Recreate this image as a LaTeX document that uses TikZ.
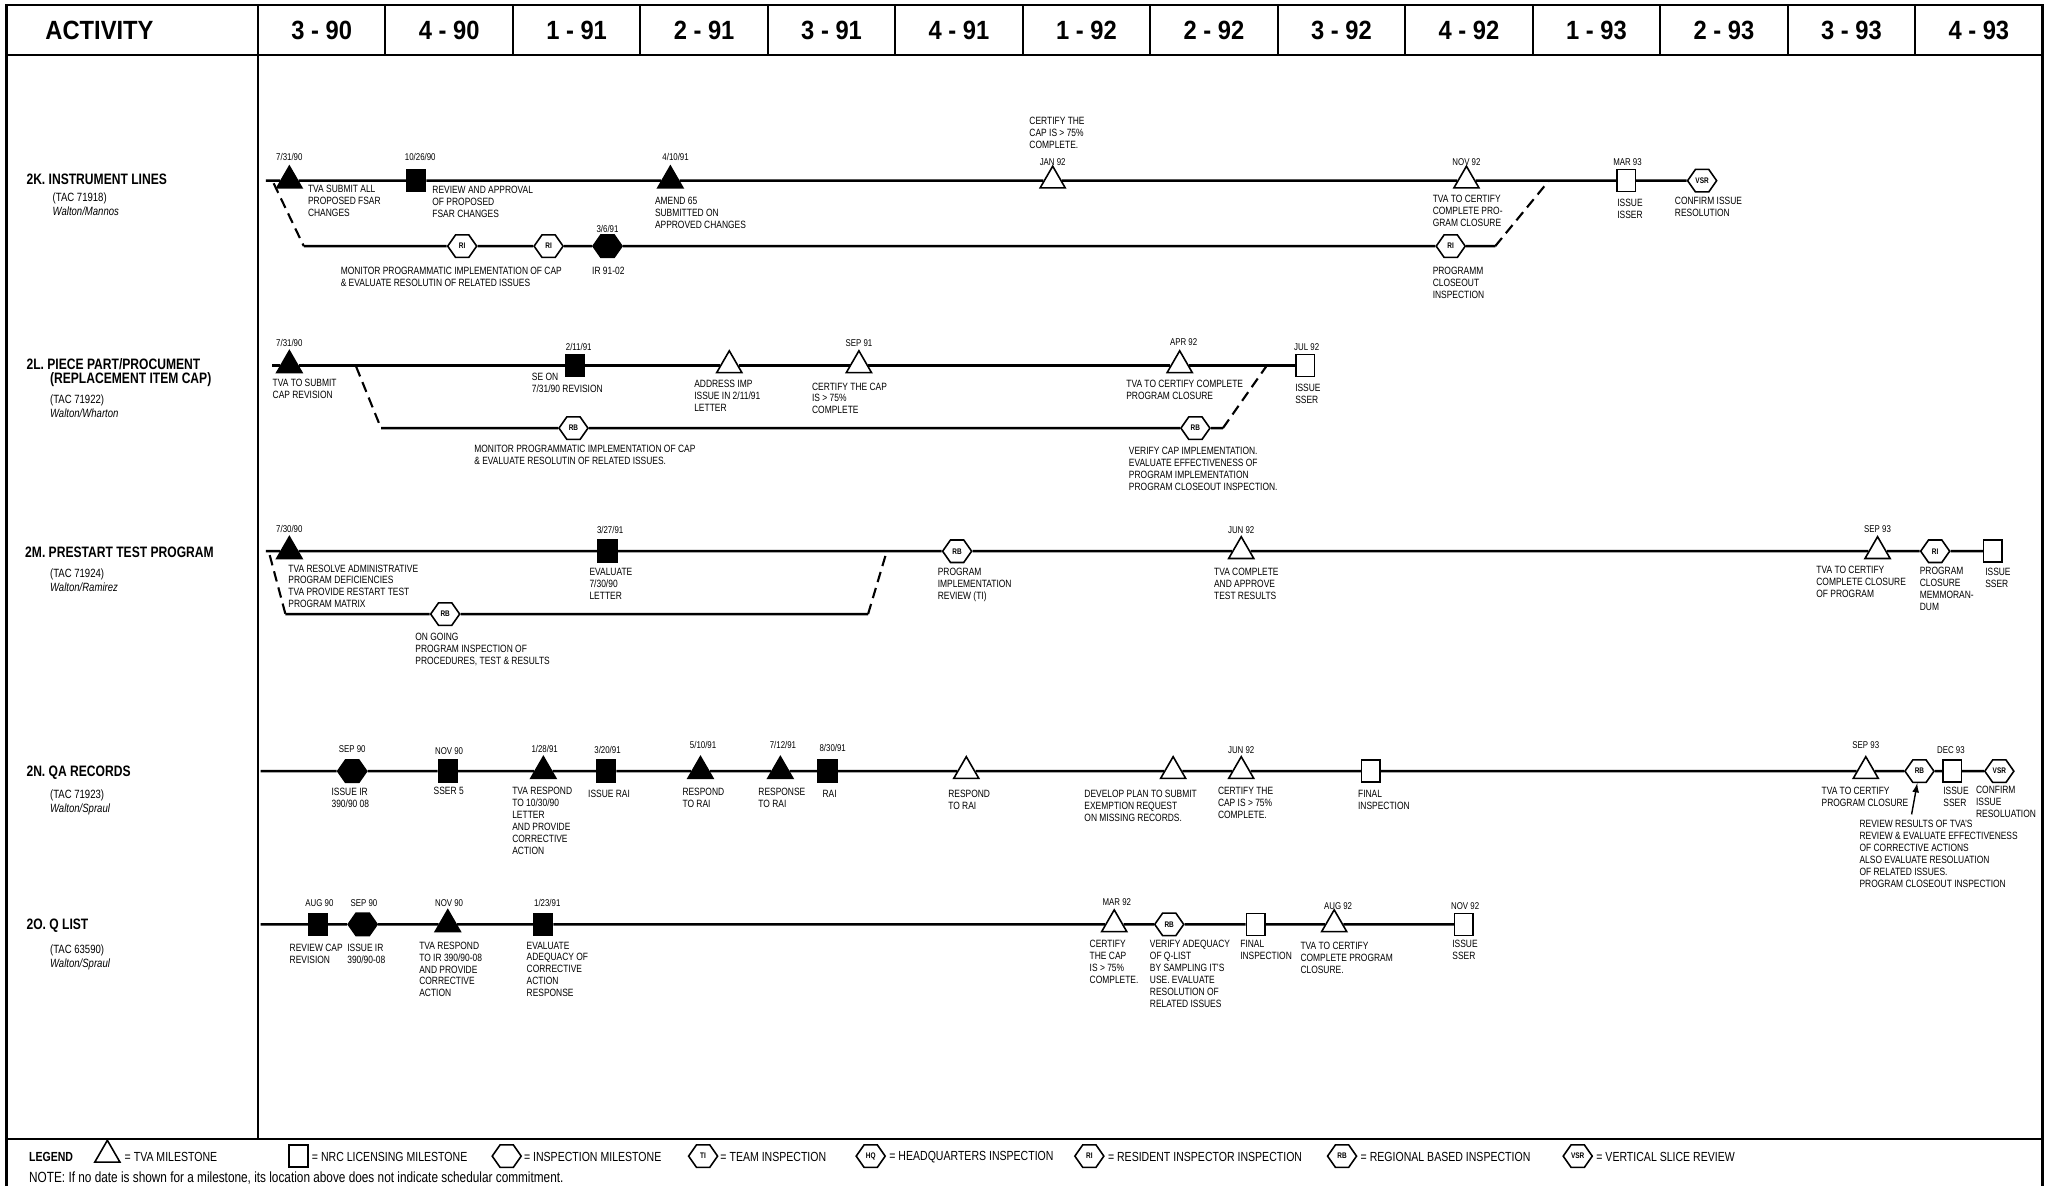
\documentclass[tikz,border=0pt]{standalone}
\usepackage{fontspec}
\setmainfont[FakeStretch=0.8]{Liberation Sans}
\newfontfamily\headfont[FakeStretch=0.9]{Liberation Sans}
\usetikzlibrary{shapes.geometric,shapes.symbols}

\begin{document}
\begin{tikzpicture}
    [
        x=0.026186cm, y=-0.026186cm,
        gridline/.style={line width=1.2pt},
        track/.style={line width=1.4pt},
        link/.style={line width=1.2pt, dash pattern=on 6pt off 3.5pt},
        tvamile/.style={regular polygon, regular polygon sides=3, draw, line width=0.9pt, fill=white, inner sep=0pt, minimum size=0.58cm},
        tvadone/.style={tvamile, fill=black},
        nrcmile/.style={rectangle, draw, line width=0.9pt, fill=white, inner sep=0pt, minimum width=0.37cm, minimum height=0.44cm},
        nrcdone/.style={nrcmile, fill=black},
        insp/.style={signal, signal to=east and west, signal pointer angle=110, draw, line width=0.9pt, fill=white, inner sep=0pt, minimum width=0.58cm, minimum height=0.45cm, font=\fontsize{4.6}{4.6}\selectfont\bfseries},
        inspdone/.style={insp, fill=black},
        datelbl/.style={inner sep=0pt, font=\fontsize{5.6}{6}\selectfont},
        desc/.style={anchor=north west, align=left, inner sep=0pt, font=\fontsize{6}{6.8}\selectfont},
        rowtitle/.style={anchor=west, inner sep=0pt, font=\fontsize{8.6}{10}\selectfont\bfseries},
        rowinfo/.style={anchor=north west, align=left, inner sep=0pt, font=\fontsize{6.8}{8.2}\selectfont},
        quarter/.style={inner sep=0pt, font=\headfont\fontsize{15}{16}\selectfont\bfseries},
        legendtxt/.style={anchor=west, inner sep=0pt, font=\fontsize{7.5}{8}\selectfont},
    ]
    \useasboundingbox (0,0) rectangle (1568,906);
    \draw[gridline] (5,906) -- (5,4) -- (1560,4) -- (1560,906);
    \draw[gridline] (5,42) -- (1560,42);
    \draw[gridline] (5,870) -- (1560,870);
    \draw[gridline] (197,4) -- (197,870);
    \node (act) at (76,23) [quarter] {ACTIVITY};
    \foreach \q [count=\i from 0] in {3 - 90, 4 - 90, 1 - 91, 2 - 91, 3 - 91, 4 - 91, 1 - 92, 2 - 92, 3 - 92, 4 - 92, 1 - 93, 2 - 93, 3 - 93, 4 - 93}
    {
        \draw[gridline] ({197+97.36*(\i+1)},4) -- ({197+97.36*(\i+1)},42);
        \node (q\i) at ({197+97.36*(\i+0.5)},23) [quarter] {\q};
    }

    \node (kt) at (20,137) [rowtitle] {2K. INSTRUMENT LINES};
    \node (ki) at (40,147) [rowinfo] {(TAC 71918)\\\textit{Walton/Mannos}};
    \coordinate (k0) at (203,138);
    \node (k1) at (221,138) [tvadone] {};
    \node (k2) at (318,138) [nrcdone] {};
    \node (k3) at (512,138) [tvadone] {};
    \node (k4) at (804,138) [tvamile] {};
    \node (k5) at (1120,138) [tvamile] {};
    \node (k6) at (1242,138) [nrcmile] {};
    \node (k7) at (1300,138) [insp] {VSR};
    \coordinate (ka) at (209,140);
    \coordinate (kb) at (232,188);
    \node (k8) at (353,188) [insp] {RI};
    \node (k9) at (419,188) [insp] {RI};
    \node (k10) at (464,188) [inspdone] {};
    \node (k11) at (1108,188) [insp] {RI};
    \coordinate (kc) at (1142,188);
    \coordinate (kd) at (1183,138);
    \draw[track] (k0) -- (k1) -- (k2) -- (k3) -- (k4) -- (k5) -- (k6) -- (k7);
    \draw[track] (kb) -- (k8) -- (k9) -- (k10) -- (k11) -- (kc);
    \draw[link] (ka) -- (kb);
    \draw[link] (kc) -- (kd);
    \node (k1d) at (221,120) [datelbl] {7/31/90};
    \node (k2d) at (321,120) [datelbl] {10/26/90};
    \node (k3d) at (516,120) [datelbl] {4/10/91};
    \node (k4d) at (804,124) [datelbl] {JAN 92};
    \node (k5d) at (1120,124) [datelbl] {NOV 92};
    \node (k6d) at (1243,124) [datelbl] {MAR 93};
    \node (k10d) at (464,175) [datelbl] {3/6/91};
    \node (k1t) at (235,141) [desc] {TVA SUBMIT ALL\\PROPOSED FSAR\\CHANGES};
    \node (k2t) at (330,142) [desc] {REVIEW AND APPROVAL\\OF PROPOSED\\FSAR CHANGES};
    \node (k3t) at (500,150) [desc] {AMEND 65\\SUBMITTED ON\\APPROVED CHANGES};
    \node (k4t) at (786,89) [desc] {CERTIFY THE\\CAP IS > 75\%\\COMPLETE.};
    \node (k5t) at (1094,149) [desc] {TVA TO CERTIFY\\COMPLETE PRO-\\GRAM CLOSURE};
    \node (k6t) at (1235,152) [desc] {ISSUE\\ISSER};
    \node (k7t) at (1279,150) [desc] {CONFIRM ISSUE\\RESOLUTION};
    \node (k8t) at (260,204) [desc] {MONITOR PROGRAMMATIC IMPLEMENTATION OF CAP\\\& EVALUATE RESOLUTIN OF RELATED ISSUES};
    \node (k10t) at (452,204) [desc] {IR 91-02};
    \node (k11t) at (1094,204) [desc] {PROGRAMM\\CLOSEOUT\\INSPECTION};

    \node (lt) at (20,278) [rowtitle] {2L. PIECE PART/PROCUMENT};
    \node (lr) at (38,290) [rowtitle] {(REPLACEMENT ITEM CAP)};
    \node (li) at (38,301) [rowinfo] {(TAC 71922)\\\textit{Walton/Wharton}};
    \coordinate (l0) at (208,279);
    \node (l1) at (221,279) [tvadone] {};
    \node (l2) at (439,279) [nrcdone] {};
    \node (l3) at (557,279) [tvamile] {};
    \node (l4) at (656,279) [tvamile] {};
    \node (l5) at (901,279) [tvamile] {};
    \node (l6) at (997,279) [nrcmile] {};
    \coordinate (la) at (272,280);
    \coordinate (lb) at (291,327);
    \node (l7) at (438,327) [insp] {RB};
    \node (l8) at (913,327) [insp] {RB};
    \coordinate (lc) at (934,327);
    \coordinate (ld) at (967,280);
    \draw[track] (l0) -- (l1) -- (l2) -- (l3) -- (l4) -- (l5) -- (l6);
    \draw[track] (lb) -- (l7) -- (l8) -- (lc);
    \draw[link] (la) -- (lb);
    \draw[link] (lc) -- (ld);
    \node (l1d) at (221,262) [datelbl] {7/31/90};
    \node (l2d) at (442,265) [datelbl] {2/11/91};
    \node (l4d) at (656,262) [datelbl] {SEP 91};
    \node (l5d) at (904,261) [datelbl] {APR 92};
    \node (l6d) at (998,265) [datelbl] {JUL 92};
    \node (l1t) at (208,289) [desc] {TVA TO SUBMIT\\CAP REVISION};
    \node (l2t) at (406,285) [desc] {SE ON\\7/31/90 REVISION};
    \node (l3t) at (530,290) [desc] {ADDRESS IMP\\ISSUE IN 2/11/91\\LETTER};
    \node (l4t) at (620,292) [desc] {CERTIFY THE CAP\\IS > 75\%\\COMPLETE};
    \node (l5t) at (860,290) [desc] {TVA TO CERTIFY COMPLETE\\PROGRAM CLOSURE};
    \node (l6t) at (989,293) [desc] {ISSUE\\SSER};
    \node (l7t) at (362,340) [desc] {MONITOR PROGRAMMATIC IMPLEMENTATION OF CAP\\\& EVALUATE RESOLUTIN OF RELATED ISSUES.};
    \node (l8t) at (862,341) [desc] {VERIFY CAP IMPLEMENTATION.\\EVALUATE EFFECTIVENESS OF\\PROGRAM IMPLEMENTATION\\PROGRAM CLOSEOUT INSPECTION.};

    \node (mt) at (19,422) [rowtitle] {2M. PRESTART TEST PROGRAM};
    \node (mi) at (38,434) [rowinfo] {(TAC 71924)\\\textit{Walton/Ramirez}};
    \coordinate (m0) at (203,421);
    \node (m1) at (221,421) [tvadone] {};
    \node (m2) at (464,421) [nrcdone] {};
    \node (m3) at (731,421) [insp] {RB};
    \node (m4) at (948,421) [tvamile] {};
    \node (m5) at (1434,421) [tvamile] {};
    \node (m6) at (1478,421) [insp] {RI};
    \node (m7) at (1522,421) [nrcmile] {};
    \coordinate (ma) at (206,424);
    \coordinate (mb) at (218,469);
    \node (m8) at (340,469) [insp] {RB};
    \coordinate (mc) at (663,469);
    \coordinate (md) at (677,422);
    \draw[track] (m0) -- (m1) -- (m2) -- (m3) -- (m4) -- (m5) -- (m6) -- (m7);
    \draw[track] (mb) -- (m8) -- (mc);
    \draw[link] (ma) -- (mb);
    \draw[link] (mc) -- (md);
    \node (m1d) at (221,404) [datelbl] {7/30/90};
    \node (m2d) at (466,405) [datelbl] {3/27/91};
    \node (m4d) at (948,405) [datelbl] {JUN 92};
    \node (m5d) at (1434,404) [datelbl] {SEP 93};
    \node (m1t) at (220,431) [desc] {TVA RESOLVE ADMINISTRATIVE\\PROGRAM DEFICIENCIES\\TVA PROVIDE RESTART TEST\\PROGRAM MATRIX};
    \node (m2t) at (450,434) [desc] {EVALUATE\\7/30/90\\LETTER};
    \node (m3t) at (716,434) [desc] {PROGRAM\\IMPLEMENTATION\\REVIEW (TI)};
    \node (m4t) at (927,434) [desc] {TVA COMPLETE\\AND APPROVE\\TEST RESULTS};
    \node (m5t) at (1387,432) [desc] {TVA TO CERTIFY\\COMPLETE CLOSURE\\OF PROGRAM};
    \node (m6t) at (1466,433) [desc] {PROGRAM\\CLOSURE\\MEMMORAN-\\DUM};
    \node (m7t) at (1516,434) [desc] {ISSUE\\SSER};
    \node (m8t) at (317,483) [desc] {ON GOING\\PROGRAM INSPECTION OF\\PROCEDURES, TEST \& RESULTS};

    \node (nt) at (20,590) [rowtitle] {2N. QA RECORDS};
    \node (ni) at (38,603) [rowinfo] {(TAC 71923)\\\textit{Walton/Spraul}};
    \coordinate (n0) at (199,589);
    \node (n1) at (269,589) [inspdone] {};
    \node (n2) at (342,589) [nrcdone] {};
    \node (n3) at (415,589) [tvadone] {};
    \node (n4) at (463,589) [nrcdone] {};
    \node (n5) at (535,589) [tvadone] {};
    \node (n6) at (596,589) [tvadone] {};
    \node (n7) at (632,589) [nrcdone] {};
    \node (n8) at (738,589) [tvamile] {};
    \node (n9) at (896,589) [tvamile] {};
    \node (n10) at (948,589) [tvamile] {};
    \node (n11) at (1047,589) [nrcmile] {};
    \node (n12) at (1425,589) [tvamile] {};
    \node (n13) at (1466,589) [insp] {RB};
    \node (n14) at (1491,589) [nrcmile] {};
    \node (n15) at (1527,589) [insp] {VSR};
    \coordinate (na) at (1460,622);
    \draw[track] (n0) -- (n1) -- (n2) -- (n3) -- (n4) -- (n5) -- (n6) -- (n7) -- (n8) -- (n9) -- (n10) -- (n11) -- (n12) -- (n13) -- (n14) -- (n15);
    \draw[line width=0.8pt, -latex] (na) -- (n13);
    \node (n1d) at (269,572) [datelbl] {SEP 90};
    \node (n2d) at (343,574) [datelbl] {NOV 90};
    \node (n3d) at (416,572) [datelbl] {1/28/91};
    \node (n4d) at (464,573) [datelbl] {3/20/91};
    \node (n5d) at (537,569) [datelbl] {5/10/91};
    \node (n6d) at (598,569) [datelbl] {7/12/91};
    \node (n7d) at (636,571) [datelbl] {8/30/91};
    \node (n10d) at (948,573) [datelbl] {JUN 92};
    \node (n12d) at (1425,569) [datelbl] {SEP 93};
    \node (n14d) at (1490,573) [datelbl] {DEC 93};
    \node (n1t) at (253,602) [desc] {ISSUE IR\\390/90 08};
    \node (n2t) at (331,601) [desc] {SSER 5};
    \node (n3t) at (391,601) [desc] {TVA RESPOND\\TO 10/30/90\\LETTER\\AND PROVIDE\\CORRECTIVE\\ACTION};
    \node (n4t) at (449,603) [desc] {ISSUE RAI};
    \node (n5t) at (521,602) [desc] {RESPOND\\TO RAI};
    \node (n6t) at (579,602) [desc] {RESPONSE\\TO RAI};
    \node (n7t) at (628,603) [desc] {RAI};
    \node (n8t) at (724,603) [desc] {RESPOND\\TO RAI};
    \node (n9t) at (828,603) [desc] {DEVELOP PLAN TO SUBMIT\\EXEMPTION REQUEST\\ON MISSING RECORDS.};
    \node (n10t) at (930,601) [desc] {CERTIFY THE\\CAP IS > 75\%\\COMPLETE.};
    \node (n11t) at (1037,603) [desc] {FINAL\\INSPECTION};
    \node (n12t) at (1391,601) [desc] {TVA TO CERTIFY\\PROGRAM CLOSURE};
    \node (n13t) at (1420,626) [desc] {REVIEW RESULTS OF TVA'S\\REVIEW \& EVALUATE EFFECTIVENESS\\OF CORRECTIVE ACTIONS\\ALSO EVALUATE RESOLUATION\\OF RELATED ISSUES.\\PROGRAM CLOSEOUT INSPECTION};
    \node (n14t) at (1484,601) [desc] {ISSUE\\SSER};
    \node (n15t) at (1509,600) [desc] {CONFIRM\\ISSUE\\RESOLUATION};

    \node (ot) at (20,707) [rowtitle] {2O. Q LIST};
    \node (oi) at (38,721) [rowinfo] {(TAC 63590)\\\textit{Walton/Spraul}};
    \coordinate (o0) at (199,706);
    \node (o1) at (243,706) [nrcdone] {};
    \node (o2) at (277,706) [inspdone] {};
    \node (o3) at (342,706) [tvadone] {};
    \node (o4) at (415,706) [nrcdone] {};
    \node (o5) at (851,706) [tvamile] {};
    \node (o6) at (893,706) [insp] {RB};
    \node (o7) at (959,706) [nrcmile] {};
    \node (o8) at (1019,706) [tvamile] {};
    \node (o9) at (1118,706) [nrcmile] {};
    \draw[track] (o0) -- (o1) -- (o2) -- (o3) -- (o4) -- (o5) -- (o6) -- (o7) -- (o8) -- (o9);
    \node (o1d) at (244,690) [datelbl] {AUG 90};
    \node (o2d) at (278,690) [datelbl] {SEP 90};
    \node (o3d) at (343,690) [datelbl] {NOV 90};
    \node (o4d) at (418,690) [datelbl] {1/23/91};
    \node (o5d) at (853,689) [datelbl] {MAR 92};
    \node (o8d) at (1022,692) [datelbl] {AUG 92};
    \node (o9d) at (1119,692) [datelbl] {NOV 92};
    \node (o1t) at (221,721) [desc] {REVIEW CAP\\REVISION};
    \node (o2t) at (265,721) [desc] {ISSUE IR\\390/90-08};
    \node (o3t) at (320,719) [desc] {TVA RESPOND\\TO IR 390/90-08\\AND PROVIDE\\CORRECTIVE\\ACTION};
    \node (o4t) at (402,719) [desc] {EVALUATE\\ADEQUACY OF\\CORRECTIVE\\ACTION\\RESPONSE};
    \node (o5t) at (832,718) [desc] {CERTIFY\\THE CAP\\IS > 75\%\\COMPLETE.};
    \node (o6t) at (878,718) [desc] {VERIFY ADEQUACY\\OF Q-LIST\\BY SAMPLING IT'S\\USE. EVALUATE\\RESOLUTION OF\\RELATED ISSUES};
    \node (o7t) at (947,718) [desc] {FINAL\\INSPECTION};
    \node (o8t) at (993,719) [desc] {TVA TO CERTIFY\\COMPLETE PROGRAM\\CLOSURE.};
    \node (o9t) at (1109,718) [desc] {ISSUE\\SSER};

    \node (lg) at (22,884) [legendtxt, font=\fontsize{7.5}{8}\selectfont\bfseries] {LEGEND};
    \node (g1) at (82,882) [tvamile] {};
    \node (g1t) at (95,884) [legendtxt] {= TVA MILESTONE};
    \node (g2) at (228,883) [nrcmile] {};
    \node (g2t) at (238,884) [legendtxt] {= NRC LICENSING MILESTONE};
    \node (g3) at (387,883) [insp] {};
    \node (g3t) at (400,884) [legendtxt] {= INSPECTION MILESTONE};
    \node (g4) at (537,883) [insp] {TI};
    \node (g4t) at (550,884) [legendtxt] {= TEAM INSPECTION};
    \node (g5) at (665,883) [insp] {HQ};
    \node (g5t) at (679,884) [legendtxt] {= HEADQUARTERS INSPECTION};
    \node (g6) at (832,883) [insp] {RI};
    \node (g6t) at (846,884) [legendtxt] {= RESIDENT INSPECTOR INSPECTION};
    \node (g7) at (1025,883) [insp] {RB};
    \node (g7t) at (1039,884) [legendtxt] {= REGIONAL BASED INSPECTION};
    \node (g8) at (1205,883) [insp] {VSR};
    \node (g8t) at (1219,884) [legendtxt] {= VERTICAL SLICE REVIEW};
    \node (note) at (22,900) [legendtxt, font=\fontsize{8.4}{9}\selectfont] {NOTE: If no date is shown for a milestone, its location above does not indicate schedular commitment.};
\end{tikzpicture}
\end{document}
